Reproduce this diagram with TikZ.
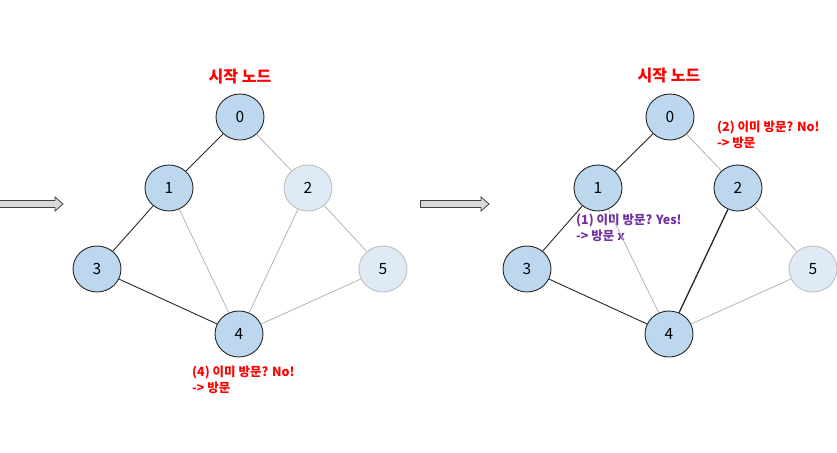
\documentclass[tikz,border=0pt]{standalone}
\usepackage{fontspec}
\setmainfont{Noto Sans CJK KR}
\usetikzlibrary{shapes.geometric}
\definecolor{vfill}{HTML}{BDD7EE}
\definecolor{ufill}{HTML}{DEEBF7}
\definecolor{ubord}{HTML}{BFBFBF}
\definecolor{gedge}{HTML}{B4B4B4}
\definecolor{myred}{HTML}{FF0000}
\definecolor{mypurple}{HTML}{7030A0}
\definecolor{arrfill}{HTML}{D9D9D9}
\tikzset{
  vnode/.style={ellipse, draw=black!85, fill=vfill, line width=0.9pt, minimum width=48pt, minimum height=46pt, inner sep=0pt, font=\fontsize{15.5}{15.5}\selectfont},
  unode/.style={ellipse, draw=ubord, fill=ufill, line width=0.9pt, minimum width=48pt, minimum height=46pt, inner sep=0pt, font=\fontsize{15.5}{15.5}\selectfont},
  bedge/.style={draw=black!85, line width=0.9pt},
  gedgest/.style={draw=gedge, line width=0.8pt},
  title/.style={text=myred, font=\fontsize{16}{16}\selectfont\bfseries},
  note/.style={anchor=north west, align=left, inner sep=0pt, font=\fontsize{12.5}{15.5}\selectfont\bfseries},
  blockarrow/.style={draw=black!75, fill=arrfill, line width=0.8pt}
}
\begin{document}
\begin{tikzpicture}[x=1pt,y=-1pt]
\useasboundingbox (0,0) rectangle (837,452);
% left block arrow
\draw[blockarrow] (-2,200.5) -- (55,200.5) -- (55,197) -- (63,204) -- (55,211) -- (55,207.5) -- (-2,207.5) -- cycle;
% right block arrow
\draw[blockarrow] (420.5,200.5) -- (481,200.5) -- (481,197) -- (489,204) -- (481,211) -- (481,207.5) -- (420.5,207.5) -- cycle;

% ---------- left graph ----------
\node[vnode] (a0) at (240,117) {0};
\node[vnode] (a1) at (169,188) {1};
\node[unode] (a2) at (308,188) {2};
\node[vnode] (a3) at (97,269) {3};
\node[unode] (a5) at (383,269) {5};
\node[vnode] (a4) at (239,334) {4};
\node[title] (at) at (240,77) {시작 노드};
\node[note, text=myred] (an) at (192,366) {(4) 이미 방문? No!\\-> 방문};

% ---------- right graph ----------
\node[vnode] (b0) at (670,117) {0};
\node[vnode] (b1) at (598,188) {1};
\node[vnode] (b2) at (738,188) {2};
\node[vnode] (b3) at (527,269) {3};
\node[unode] (b5) at (813,269) {5};
\node[vnode] (b4) at (669,334) {4};
\node[title] (bt) at (669,76) {시작 노드};
\node[note, text=myred] (bn2) at (717,121) {(2) 이미 방문? No!\\-> 방문};
\node[note, text=mypurple] (bn1) at (576,214) {(1) 이미 방문? Yes!\\-> 방문 x};

% edges left
\path[bedge] (a0) -- (a1);
\path[gedgest] (a0) -- (a2);
\path[bedge] (a1) -- (a3);
\path[gedgest] (a1) -- (a4);
\path[gedgest] (a2) -- (a4);
\path[gedgest] (a2) -- (a5);
\path[bedge] (a3) -- (a4);
\path[gedgest] (a4) -- (a5);
% edges right
\path[bedge] (b0) -- (b1);
\path[gedgest] (b0) -- (b2);
\path[bedge] (b1) -- (b3);
\path[gedgest] (b1) -- (b4);
\path[bedge, line width=1.3pt] (b2) -- (b4);
\path[gedgest] (b2) -- (b5);
\path[bedge] (b3) -- (b4);
\path[gedgest] (b4) -- (b5);
\end{tikzpicture}
\end{document}
